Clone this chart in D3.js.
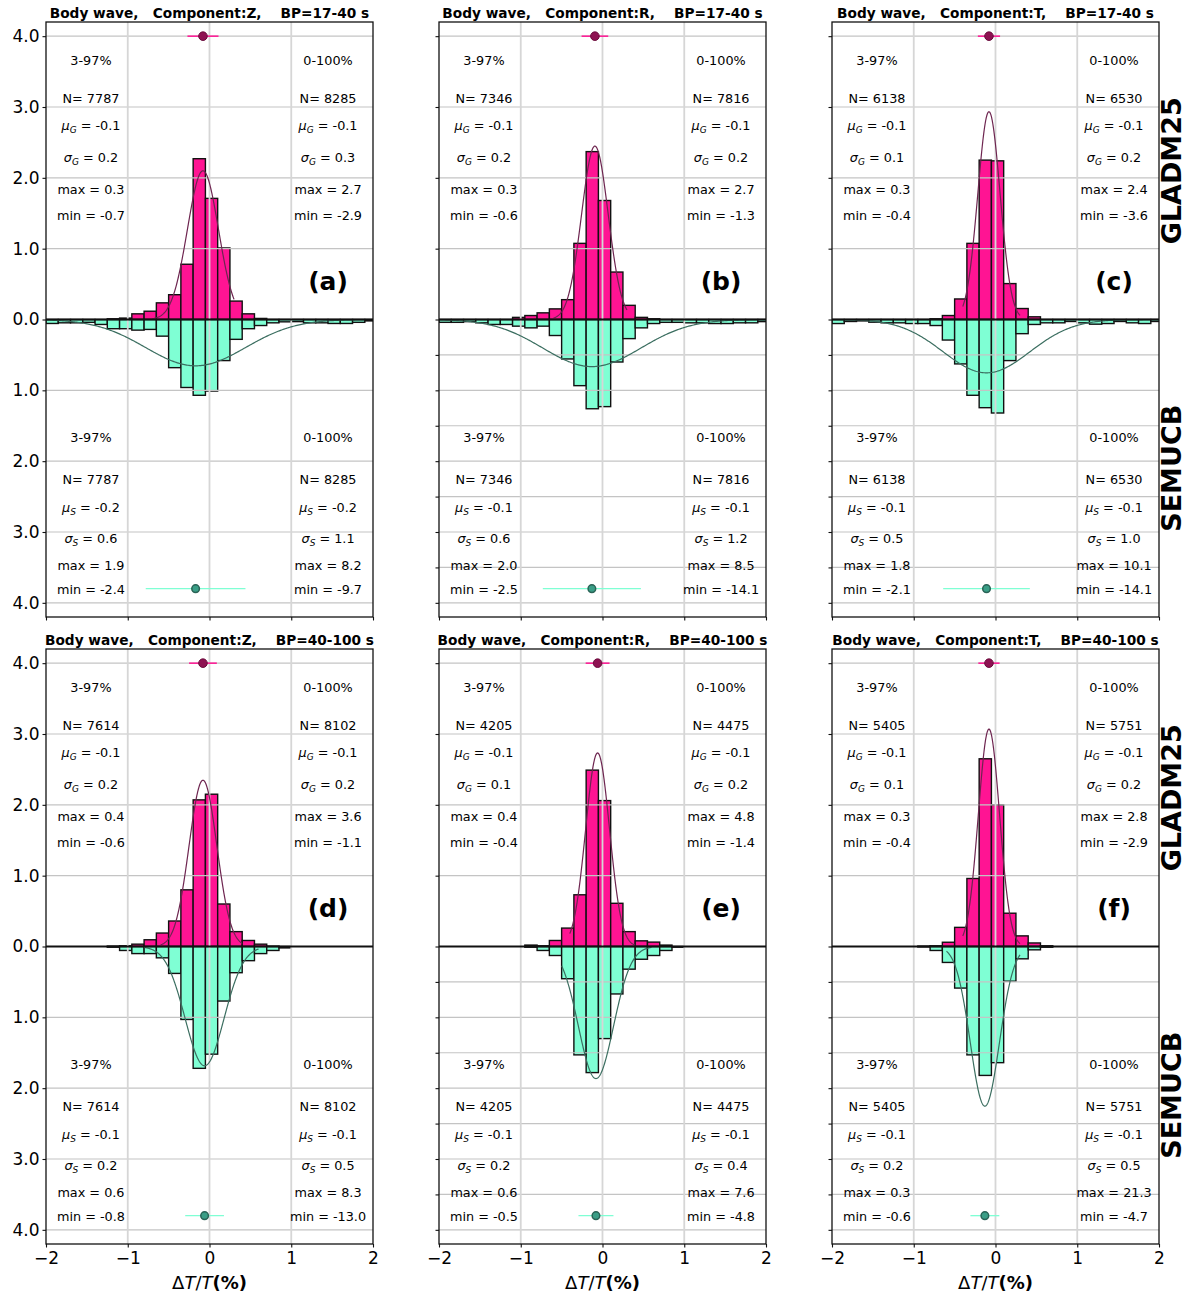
<!DOCTYPE html>
<html>
<head>
<meta charset="utf-8">
<script src="https://cdn.jsdelivr.net/npm/d3@7"></script>
<style>
  body { margin: 0; background: #fff; }
  svg { display: block; }
  text { font-family: "DejaVu Sans", sans-serif; fill: #000; }
</style>
</head>
<body>
<svg id="chart" width="1187" height="1296"></svg>
<script>
// ---- data ---------------------------------------------------------------
const panelIds = ["a", "b", "c", "d", "e", "f"];
const components = ["Z", "R", "T", "Z", "R", "T"];
const bandPass = ["17-40", "17-40", "17-40", "40-100", "40-100", "40-100"];
const modelNames = ["GLADM25", "SEMUCB"];

// histogram bins: left edge of first bin and bin width (ΔT/T, %)
const binStart = -2.0;
const binWidth = 0.15;

// GLADM25 normalised histograms (drawn upward), one value per bin
const gladmDensity = [
  [0,0,0,0,0,0.01,0.02,0.08,0.117,0.235,0.35,0.78,2.27,1.71,1.01,0.26,0.08,0.015,0,0,0,0,0,0,0,0,0],
  [0,0,0,0,0,0,0.03,0.056,0.094,0.15,0.28,1.075,2.37,1.68,0.67,0.2,0.03,0.01,0,0,0,0,0,0,0,0,0],
  [0,0,0,0,0,0,0,0,0.01,0.056,0.29,1.075,2.25,2.24,0.507,0.155,0.038,0,0,0,0,0,0,0,0,0,0],
  [0,0,0,0,0,0.005,0.01,0.033,0.095,0.19,0.36,0.8,2.07,2.15,0.6,0.21,0.085,0.033,0.005,0,0,0,0,0,0,0,0],
  [0,0,0,0,0,0,0,0.02,0.01,0.085,0.26,0.73,2.49,2.06,0.61,0.21,0.08,0.062,0.02,0,0,0,0,0,0,0,0],
  [0,0,0,0,0,0,0,0.005,0.01,0.06,0.27,0.96,2.65,2.0,0.47,0.15,0.05,0.01,0,0,0,0,0,0,0,0,0]
];

// SEMUCB normalised histograms (drawn downward), one value per bin
const semucbDensity = [
  [0.056,0.047,0.047,0.04,0.07,0.13,0.13,0.15,0.14,0.235,0.68,0.96,1.07,1.01,0.58,0.28,0.13,0.085,0.047,0.033,0.03,0.047,0.047,0.056,0.056,0.04,0.02],
  [0.04,0.04,0.03,0.047,0.07,0.07,0.094,0.118,0.094,0.226,0.557,0.934,1.26,1.23,0.6,0.27,0.118,0.057,0.04,0.04,0.047,0.047,0.057,0.057,0.047,0.047,0.03],
  [0.057,0.028,0.02,0.038,0.047,0.047,0.057,0.057,0.085,0.29,0.627,1.07,1.245,1.32,0.58,0.2,0.07,0.047,0.047,0.028,0.047,0.066,0.057,0.028,0.047,0.057,0.028],
  [0,0,0,0,0,0.01,0.056,0.1,0.1,0.16,0.38,1.03,1.72,1.52,0.77,0.37,0.2,0.1,0.056,0.02,0,0,0,0,0,0,0],
  [0,0,0,0,0,0,0,0.01,0.056,0.127,0.455,1.53,1.78,1.3,0.67,0.32,0.18,0.127,0.056,0.01,0,0,0,0,0,0,0],
  [0,0,0,0,0,0,0,0.005,0.056,0.225,0.587,1.53,1.82,1.64,0.49,0.174,0.047,0.01,0,0,0,0,0,0,0,0,0]
];

// statistics of the 3-97% subset
const gladmN = [7787, 7346, 6138, 7614, 4205, 5405];
const gladmMean = [-0.08, -0.093, -0.08, -0.08, -0.06, -0.08];
const gladmSigma = [0.19, 0.163, 0.136, 0.17, 0.146, 0.13];
const gladmMax = [0.3, 0.3, 0.3, 0.4, 0.4, 0.3];
const gladmMin = [-0.7, -0.6, -0.4, -0.6, -0.4, -0.4];

const semucbN = [7787, 7346, 6138, 7614, 4205, 5405];
const semucbMean = [-0.17, -0.13, -0.11, -0.06, -0.08, -0.13];
const semucbSigma = [0.61, 0.6, 0.53, 0.237, 0.214, 0.177];
const semucbMax = [1.9, 2.0, 1.8, 0.6, 0.6, 0.3];
const semucbMin = [-2.4, -2.5, -2.1, -0.8, -0.5, -0.6];

// statistics of the full (0-100%) data set
const gladmAllN = [8285, 7816, 6530, 8102, 4475, 5751];
const gladmAllMean = [-0.1, -0.1, -0.1, -0.1, -0.1, -0.1];
const gladmAllSigma = [0.3, 0.2, 0.2, 0.2, 0.2, 0.2];
const gladmAllMax = [2.7, 2.7, 2.4, 3.6, 4.8, 2.8];
const gladmAllMin = [-2.9, -1.3, -3.6, -1.1, -1.4, -2.9];

const semucbAllN = [8285, 7816, 6530, 8102, 4475, 5751];
const semucbAllMean = [-0.2, -0.1, -0.1, -0.1, -0.1, -0.1];
const semucbAllSigma = [1.1, 1.2, 1.0, 0.5, 0.4, 0.5];
const semucbAllMax = [8.2, 8.5, 10.1, 8.3, 7.6, 21.3];
const semucbAllMin = [-9.7, -14.1, -14.1, -13.0, -4.8, -4.7];

// ---- layout -------------------------------------------------------------
const colLeft = [46, 439, 832];
const rowTop = [22, 649];
const panelW = 327;
const panelH = 595;

const colors = {
  gladm: "#ff1493",
  semucb: "#7fffd4",
  gladmCurve: "#6e2550",
  semucbCurve: "#3b6e60",
  gladmDot: "#8e1252",
  semucbDot: "#3a9e86",
  semucbDotEdge: "#2a6356",
  gridH: "#c4c4c4",
  gridV: "#d6d6d6"
};

const svg = d3.select("#chart");
const x = d3.scaleLinear().domain([-2, 2]).range([0, panelW]);
const y = d3.scaleLinear().domain([-4.2, 4.2]).range([panelH, 0]);

const fmt1 = v => (Math.round(v * 10) / 10).toFixed(1);
const normalPdf = (v, mu, s) => Math.exp(-0.5 * ((v - mu) / s) ** 2) / (s * Math.sqrt(2 * Math.PI));

// text rows: baseline heights (data units) for the upper and lower blocks
const upperRows = [3.59, 3.05, 2.67, 2.23, 1.77, 1.40];
const lowerRows = [-1.73, -2.32, -2.72, -3.15, -3.53, -3.87];

function statBlock(g, xVal, rows, header, n, mu, sigma, mx, mn, sub) {
  const cx = x(xVal);
  const lines = g.append("g").attr("font-size", "12.8px").attr("text-anchor", "middle");
  lines.append("text").attr("x", cx).attr("y", y(rows[0])).text(header);
  lines.append("text").attr("x", cx).attr("y", y(rows[1])).text("N= " + n);
  [["μ", mu], ["σ", sigma]].forEach(([sym, v], j) => {
    const t = lines.append("text").attr("x", cx).attr("y", y(rows[2 + j]));
    t.append("tspan").attr("font-style", "italic").text(sym);
    t.append("tspan").attr("font-style", "italic").attr("font-size", "9px").attr("dy", 3).text(sub);
    t.append("tspan").attr("dy", -3).text(" = " + fmt1(v));
  });
  lines.append("text").attr("x", cx).attr("y", y(rows[4])).text("max = " + fmt1(mx));
  lines.append("text").attr("x", cx).attr("y", y(rows[5])).text("min = " + fmt1(mn));
}

panelIds.forEach((id, i) => {
  const col = i % 3, row = Math.floor(i / 3);
  const g = svg.append("g").attr("transform", `translate(${colLeft[col]},${rowTop[row]})`);

  g.append("clipPath").attr("id", "clip" + i)
    .append("rect").attr("width", panelW).attr("height", panelH);
  const plot = g.append("g").attr("clip-path", `url(#clip${i})`);

  // histograms
  const bins = d3.range(gladmDensity[i].length).map(k => binStart + k * binWidth);
  plot.selectAll(".gbar").data(bins.map((b, k) => ({ b, h: gladmDensity[i][k] })).filter(d => d.h > 0))
    .join("rect")
    .attr("x", d => x(d.b)).attr("width", d => x(d.b + binWidth) - x(d.b))
    .attr("y", d => y(d.h)).attr("height", d => y(0) - y(d.h))
    .attr("fill", colors.gladm).attr("stroke", "#111").attr("stroke-width", 1.4);
  plot.selectAll(".sbar").data(bins.map((b, k) => ({ b, h: semucbDensity[i][k] })).filter(d => d.h > 0))
    .join("rect")
    .attr("x", d => x(d.b)).attr("width", d => x(d.b + binWidth) - x(d.b))
    .attr("y", y(0)).attr("height", d => y(-d.h) - y(0))
    .attr("fill", colors.semucb).attr("stroke", "#111").attr("stroke-width", 1.4);

  // grid
  const yTicks = col === 0 ? d3.range(-4, 4.01, 1)
    : d3.range(-4, -0.49, 0.5).concat(d3.range(0, 4.01, 1));
  plot.selectAll(".gh").data(yTicks.filter(v => v !== 0)).join("line")
    .attr("x1", 0).attr("x2", panelW).attr("y1", d => y(d)).attr("y2", d => y(d))
    .attr("stroke", colors.gridH).attr("stroke-width", 1.2);
  plot.selectAll(".gv").data([-1, 0, 1]).join("line")
    .attr("y1", 0).attr("y2", panelH).attr("x1", d => x(d)).attr("x2", d => x(d))
    .attr("stroke", colors.gridV).attr("stroke-width", 1.8);

  // fitted normal curves over each 3-97% range
  const curveLine = d3.line().x(d => x(d[0])).y(d => y(d[1]));
  const gStep = (gladmMax[i] - gladmMin[i]) / 200;
  const gPts = d3.range(201).map(k => {
    const v = gladmMin[i] + k * gStep;
    return [v, normalPdf(v, gladmMean[i], gladmSigma[i])];
  });
  plot.append("path").attr("d", curveLine(gPts)).attr("fill", "none")
    .attr("stroke", colors.gladmCurve).attr("stroke-width", 1.2);
  const sStep = (semucbMax[i] - semucbMin[i]) / 300;
  const sPts = d3.range(301).map(k => {
    const v = semucbMin[i] + k * sStep;
    return [v, -normalPdf(v, semucbMean[i], semucbSigma[i])];
  });
  plot.append("path").attr("d", curveLine(sPts)).attr("fill", "none")
    .attr("stroke", colors.semucbCurve).attr("stroke-width", 1.2);

  // zero line
  plot.append("line").attr("x1", 0).attr("x2", panelW).attr("y1", y(0)).attr("y2", y(0))
    .attr("stroke", "#111").attr("stroke-width", 2);

  // mean ± sigma markers
  plot.append("line").attr("x1", x(gladmMean[i] - gladmSigma[i])).attr("x2", x(gladmMean[i] + gladmSigma[i]))
    .attr("y1", y(4)).attr("y2", y(4)).attr("stroke", colors.gladm).attr("stroke-width", 1.5);
  plot.append("circle").attr("cx", x(gladmMean[i])).attr("cy", y(4)).attr("r", 4.3)
    .attr("fill", colors.gladmDot).attr("stroke", "#6a0c3c").attr("stroke-width", 1);
  plot.append("line").attr("x1", x(semucbMean[i] - semucbSigma[i])).attr("x2", x(semucbMean[i] + semucbSigma[i]))
    .attr("y1", y(-3.8)).attr("y2", y(-3.8)).attr("stroke", colors.semucb).attr("stroke-width", 1.3);
  plot.append("circle").attr("cx", x(semucbMean[i])).attr("cy", y(-3.8)).attr("r", 3.8)
    .attr("fill", colors.semucbDot).attr("stroke", colors.semucbDotEdge).attr("stroke-width", 1.5);

  // statistics text
  statBlock(g, -1.45, upperRows, "3-97%", gladmN[i], gladmMean[i], gladmSigma[i], gladmMax[i], gladmMin[i], "G");
  statBlock(g, 1.45, upperRows, "0-100%", gladmAllN[i], gladmAllMean[i], gladmAllSigma[i], gladmAllMax[i], gladmAllMin[i], "G");
  statBlock(g, -1.45, lowerRows, "3-97%", semucbN[i], semucbMean[i], semucbSigma[i], semucbMax[i], semucbMin[i], "S");
  statBlock(g, 1.45, lowerRows, "0-100%", semucbAllN[i], semucbAllMean[i], semucbAllSigma[i], semucbAllMax[i], semucbAllMin[i], "S");

  // panel letter
  g.append("text").attr("x", x(1.45)).attr("y", y(0.54)).attr("dy", "0.35em")
    .attr("text-anchor", "middle").attr("font-size", "25px").attr("font-weight", "bold")
    .text(`(${id})`);

  // axes frame
  g.append("rect").attr("width", panelW).attr("height", panelH)
    .attr("fill", "none").attr("stroke", "#111").attr("stroke-width", 1.3);

  // y axis ticks (labels only in the first column)
  const yAxis = d3.axisLeft(y).tickValues(yTicks).tickSize(3.5).tickPadding(3)
    .tickFormat(col === 0 ? (v => Math.abs(v).toFixed(1)) : () => "");
  const ya = g.append("g").call(yAxis);
  ya.select(".domain").remove();
  ya.selectAll("line").attr("stroke", "#111").attr("stroke-width", 1.1);
  ya.selectAll("text").attr("font-size", "17px").attr("font-family", "DejaVu Sans").attr("fill", "#000");

  // x axis ticks (labels only in the bottom row)
  const xAxis = d3.axisBottom(x).tickValues([-2, -1, 0, 1, 2]).tickSize(3.5).tickPadding(4)
    .tickFormat(row === 1 ? (v => (v < 0 ? "\u2212" + Math.abs(v) : String(v))) : () => "");
  const xa = g.append("g").attr("transform", `translate(0,${panelH})`).call(xAxis);
  xa.select(".domain").remove();
  xa.selectAll("line").attr("stroke", "#111").attr("stroke-width", 1.1);
  xa.selectAll("text").attr("font-size", "17px").attr("font-family", "DejaVu Sans").attr("fill", "#000");

  if (row === 1) {
    const xl = g.append("text").attr("x", panelW / 2).attr("y", panelH + 45)
      .attr("text-anchor", "middle").attr("font-size", "18px");
    xl.append("tspan").text("Δ");
    xl.append("tspan").attr("font-style", "italic").text("T");
    xl.append("tspan").text("/");
    xl.append("tspan").attr("font-style", "italic").text("T");
    xl.append("tspan").attr("font-weight", "bold").text("(%)");
  }

  // title
  g.append("text").attr("x", panelW / 2).attr("y", -4).attr("text-anchor", "middle")
    .attr("font-size", "13.7px").attr("font-weight", "bold").style("white-space", "pre")
    .text(`Body wave,   Component:${components[i]},    BP=${bandPass[i]} s`);

  // model names on the right edge
  if (col === 2) {
    modelNames.forEach((name, j) => {
      const cy = j === 0 ? (y(4.2) + y(0)) / 2 : (y(0) + y(-4.2)) / 2;
      g.append("text").attr("transform", `translate(${panelW + 22},${cy}) rotate(-90)`)
        .attr("text-anchor", "middle").attr("font-size", "27px").attr("font-weight", "bold")
        .text(name);
    });
  }
});
</script>
</body>
</html>
